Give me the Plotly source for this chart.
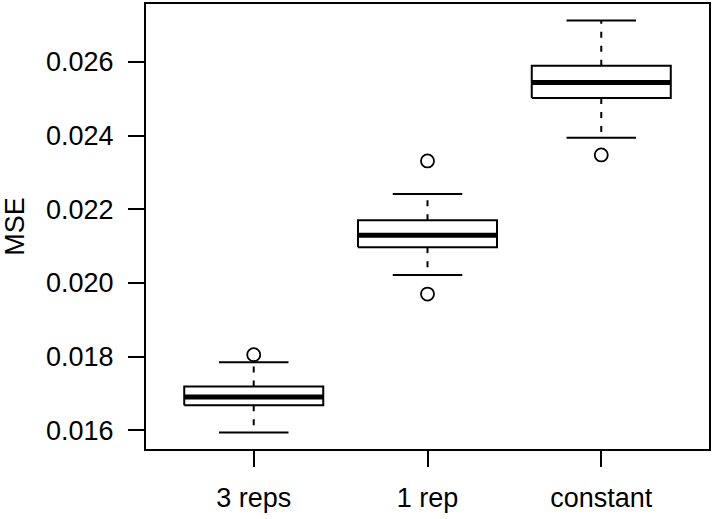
import plotly.graph_objects as go

categories = ["3 reps", "1 rep", "constant"]
lower_whisker = [0.015938, 0.020211, 0.023940]
q1 = [0.016678, 0.020970, 0.025016]
median = [0.016905, 0.021295, 0.025442]
q3 = [0.017184, 0.021702, 0.025892]
upper_whisker = [0.017843, 0.022415, 0.027122]
outliers = [[0.018051], [0.023309, 0.019696], [0.023472]]
y_ticks = [0.016, 0.018, 0.020, 0.022, 0.024, 0.026]

BOX_HALF = 0.4
CAP_HALF = 0.2

fig = go.Figure()

bx, by, mx, my, wx, wy, cx, cy, ox, oy = [], [], [], [], [], [], [], [], [], []
for i in range(len(categories)):
    xc = i + 1
    bx += [xc - BOX_HALF, xc + BOX_HALF, xc + BOX_HALF, xc - BOX_HALF, xc - BOX_HALF, None]
    by += [q1[i], q1[i], q3[i], q3[i], q1[i], None]
    mx += [xc - BOX_HALF, xc + BOX_HALF, None]
    my += [median[i], median[i], None]
    wx += [xc, xc, None, xc, xc, None]
    wy += [q3[i], upper_whisker[i], None, q1[i], lower_whisker[i], None]
    cx += [xc - CAP_HALF, xc + CAP_HALF, None, xc - CAP_HALF, xc + CAP_HALF, None]
    cy += [upper_whisker[i], upper_whisker[i], None, lower_whisker[i], lower_whisker[i], None]
    for v in outliers[i]:
        ox.append(xc)
        oy.append(v)

fig.add_trace(go.Scatter(x=wx, y=wy, mode="lines",
                         line=dict(color="black", width=2, dash="6px,8px"), hoverinfo="skip"))
fig.add_trace(go.Scatter(x=cx, y=cy, mode="lines",
                         line=dict(color="black", width=2), hoverinfo="skip"))
fig.add_trace(go.Scatter(x=bx, y=by, mode="lines",
                         line=dict(color="black", width=2), hoverinfo="skip"))
fig.add_trace(go.Scatter(x=mx, y=my, mode="lines",
                         line=dict(color="black", width=5), hoverinfo="skip"))
fig.add_trace(go.Scatter(x=ox, y=oy, mode="markers",
                         marker=dict(symbol="circle-open", size=13, color="black",
                                     line=dict(width=1.8, color="black")),
                         hoverinfo="skip"))

all_vals = lower_whisker + upper_whisker + [v for o in outliers for v in o]
lo, hi = min(all_vals), max(all_vals)
pad = (hi - lo) * 0.04

font = dict(family="Liberation Sans, Arial, sans-serif", size=27, color="black")

fig.update_layout(
    width=712, height=519,
    margin=dict(l=146, r=3, t=4, b=70),
    paper_bgcolor="white", plot_bgcolor="white",
    showlegend=False,
    font=font,
    xaxis=dict(
        range=[0.38, 3.62],
        tickmode="array", tickvals=[1, 2, 3], ticktext=categories,
        showgrid=False, zeroline=False, automargin=False,
        showline=True, mirror=True, linecolor="black", linewidth=2,
        ticks="outside", ticklen=16, tickwidth=2, tickcolor="black",
        ticklabelstandoff=8,
        tickfont=font,
    ),
    yaxis=dict(
        range=[lo - pad, hi + pad],
        tickmode="array", tickvals=y_ticks, ticktext=[f"{v:.3f}" for v in y_ticks],
        showgrid=False, zeroline=False, automargin=False,
        showline=True, mirror=True, linecolor="black", linewidth=2,
        ticks="outside", ticklen=16, tickwidth=2, tickcolor="black",
        ticklabelstandoff=9,
        tickfont=font,
        title=dict(text="MSE", font=font, standoff=16),
    ),
)

fig.write_html(
    "out.html",
    config={"responsive": False, "displayModeBar": False},
    post_script="document.body.style.margin='0';document.body.style.padding='0';"
                "document.documentElement.style.overflow='hidden';",
)
